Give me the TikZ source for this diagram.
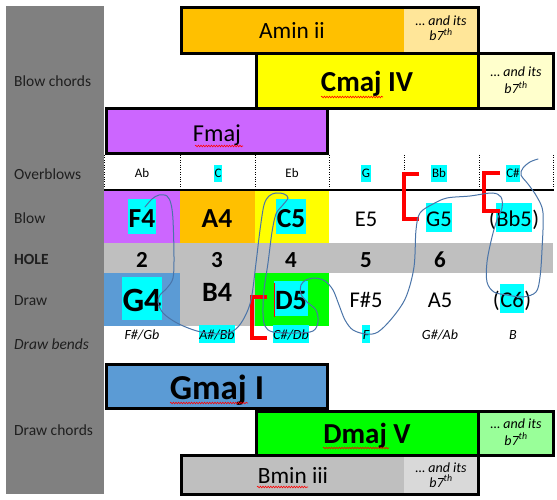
\documentclass[tikz,border=0pt]{standalone}
\usepackage{fontspec}
\setmainfont{Carlito}
\usetikzlibrary{decorations.pathmorphing}
\definecolor{labgray}{HTML}{808080}
\definecolor{cpurple}{HTML}{CC66FF}
\definecolor{corange}{HTML}{FFC000}
\definecolor{corangel}{HTML}{FFE699}
\definecolor{cyel}{HTML}{FFFF00}
\definecolor{cyell}{HTML}{FFFFCC}
\definecolor{cgray}{HTML}{BFBFBF}
\definecolor{cgrayl}{HTML}{D9D9D9}
\definecolor{cblue}{HTML}{5B9BD5}
\definecolor{cgreen}{HTML}{00FF00}
\definecolor{cgreenl}{HTML}{99FF99}
\definecolor{hlc}{HTML}{00FFFF}
\definecolor{scrib}{HTML}{4A74A8}
\newcommand\hlt[1]{{\setlength{\fboxsep}{0.6pt}\colorbox{hlc}{\rule[-0.24em]{0pt}{1.22em}#1}}}
\newcommand\fsz[1]{\fontsize{#1}{#1}\selectfont}
\tikzset{
  lab/.style={anchor=base west, inner sep=0pt, text=black!88, font=\fsz{15.5}},
  ob/.style={anchor=base, inner sep=0pt, font=\fsz{13}},
  bnote/.style={anchor=base, inner sep=0pt, font=\fsz{27.5}\bfseries},
  rnote/.style={anchor=base, inner sep=0pt, font=\fsz{22.5}},
  hnum/.style={anchor=base, inner sep=0pt, font=\fsz{23}\bfseries},
  bendtxt/.style={anchor=base, inner sep=0pt, font=\fsz{14}\itshape},
  seven/.style={anchor=base, inner sep=0pt, font=\fsz{14}\itshape},
  chordr/.style={anchor=base, inner sep=0pt, font=\fsz{23.3}},
  chordb/.style={anchor=base, inner sep=0pt, font=\fsz{29}\bfseries},
  boxline/.style={line width=3pt, line join=miter},
  bracket/.style={red, line width=4pt, line join=miter},
  spell/.style={red, line width=0.6pt, decorate, decoration={snake, amplitude=0.8pt, segment length=2.6pt}},
  sepline/.style={line width=0.8pt, dash pattern=on 0.8pt off 1.6pt},
}
\begin{document}
\begin{tikzpicture}[x=1pt, y=-1pt]
\useasboundingbox (0,0) rectangle (557,500);
% label column
\fill[labgray] (6,6) rectangle (104,494);
% grid cells
\fill[cpurple] (104,190) rectangle (180,243);
\fill[corange] (180,190) rectangle (255,243);
\fill[cyel] (255,190) rectangle (329,243);
\fill[cgray] (104,243) rectangle (553,273);
\fill[cblue] (104,273) rectangle (180,326);
\fill[cgray] (180,273) rectangle (255,326);
\fill[cgreen] (255,273) rectangle (329,326);
% overblow separators
\foreach \xx in {104,180,255,329,404,479,553} \draw[sepline] (\xx,155) -- (\xx,189);
\draw[line width=1.7pt] (104,190) -- (554,190);
% left labels
\node[lab] (lbc) at (14,87) {Blow chords};
\node[lab] (lob) at (14,179) {Overblows};
\node[lab] (lbl) at (14,223) {Blow};
\node[lab, font=\fsz{15.5}\bfseries] (lho) at (14,264) {HOLE};
\node[lab] (ldr) at (14,305) {Draw};
\node[lab, font=\fsz{15.5}\itshape] (ldb) at (14,349) {Draw bends};
\node[lab] (ldc) at (14,435) {Draw chords};
% overblows
\node[ob] (o2) at (142,178) {Ab};
\node[ob] (o3) at (218,178) {\hlt{C}};
\node[ob] (o4) at (292,178) {Eb};
\node[ob] (o5) at (366,178) {\hlt{G}};
\node[ob] (o6) at (439,178) {\hlt{Bb}};
\node[ob] (o7) at (513,178) {\hlt{C\#}};
% blow
\node[bnote] (b2) at (142,227) {\hlt{F4}};
\node[bnote] (b3) at (217,227) {A4};
\node[bnote] (b4) at (291,227) {\hlt{C5}};
\node[rnote] (b5) at (366,226) {E5};
\node[rnote] (b6) at (439,226) {\hlt{G5}};
\node[rnote] (b7) at (514,226) {(\hlt{Bb5})};
% hole numbers
\node[hnum] (h2) at (142,267) {2};
\node[hnum] (h3) at (217,267) {3};
\node[hnum] (h4) at (291,267) {4};
\node[hnum] (h5) at (366,267) {5};
\node[hnum] (h6) at (440,267) {6};
% draw
\node[bnote, font=\fsz{34}\bfseries] (d2) at (142,311) {\hlt{G4}};
\node[bnote, font=\fsz{28}\bfseries] (d3) at (217,301) {B4};
\node[bnote, font=\fsz{28}\bfseries] (d4) at (291,309) {\hlt{D5}};
\node[rnote] (d5) at (366,307) {F\#5};
\node[rnote] (d6) at (440,307) {A5};
\node[rnote] (d7) at (512,307) {(\hlt{C6})};
% draw bends
\node[bendtxt] (e2) at (142,339) {F\#/Gb};
\node[bendtxt] (e3) at (217,339) {\hlt{A\#/Bb}};
\node[bendtxt] (e4) at (291,339) {\hlt{C\#/Db}};
\node[bendtxt] (e5) at (366,339) {\hlt{F}};
\node[bendtxt] (e6) at (440,339) {G\#/Ab};
\node[bendtxt] (e7) at (513,339) {B};
% blow chord boxes
\fill[corange] (181,7.5) rectangle (404,54);
\fill[corangel] (404,7.5) rectangle (478.5,54);
\draw[boxline] (181,7.5) rectangle (478.5,54);
\fill[cyel] (256,54) rectangle (478.5,108.5);
\fill[cyell] (478.5,54) rectangle (553,108.5);
\draw[boxline] (256,54) rectangle (553,108.5);
\draw[boxline] (478.5,54) -- (478.5,108.5);
\fill[cpurple] (106,108.5) rectangle (327.5,154);
\draw[boxline] (106,108.5) rectangle (327.5,154);
\node[chordr] (amin) at (292,39) {Amin ii};
\node[seven] (amin7a) at (441,26) {… and its};
\node[seven] (amin7b) at (441,41) {b7\textsuperscript{th}};
\node[chordb] (cmaj) at (367,92) {Cmaj IV};
\node[seven] (cmaj7a) at (516,77) {… and its};
\node[seven] (cmaj7b) at (516,94) {b7\textsuperscript{th}};
\node[chordr, font=\fsz{24.3}] (fmaj) at (217,142) {Fmaj};
\draw[spell] (321,97) -- (383,97);
\draw[spell] (195,146) -- (243,146);
% draw chord boxes
\fill[cblue] (106,364.5) rectangle (327.5,408);
\draw[boxline] (106,364.5) rectangle (327.5,408);
\fill[cgreen] (256,411.5) rectangle (478.5,455.5);
\fill[cgreenl] (478.5,411.5) rectangle (553,455.5);
\draw[boxline] (256,411.5) rectangle (553,455.5);
\draw[boxline] (478.5,411.5) -- (478.5,455.5);
\fill[cgray] (181,455.5) rectangle (404,494.5);
\fill[cgrayl] (404,455.5) rectangle (478.5,494.5);
\draw[boxline] (181,455.5) rectangle (478.5,494.5);
\node[chordb, font=\fsz{35}\bfseries] (gmaj) at (217,399) {Gmaj I};
\node[chordb] (dmaj) at (367,443) {Dmaj V};
\node[seven] (dmaj7a) at (516,428) {… and its};
\node[seven] (dmaj7b) at (516,445) {b7\textsuperscript{th}};
\node[chordr] (bmin) at (293,483) {Bmin iii};
\node[seven] (bmin7a) at (441,472) {… and its};
\node[seven] (bmin7b) at (441,487) {b7\textsuperscript{th}};
\draw[spell] (170,403) -- (248,403);
\draw[spell] (323,448) -- (389,448);
\draw[spell] (257,487) -- (308,487);
% red brackets
\draw[bracket] (419,174) -- (404,174) -- (404,219) -- (419,219);
\draw[bracket] (500,173) -- (484,173) -- (484,211) -- (500,211);
\draw[bracket] (267,297) -- (252,297) -- (252,338) -- (267,338);
\draw[red, line width=1pt] (274,283) -- (274,317);
% freehand scribble
\draw[scrib, line width=1pt, line cap=round] plot[smooth, tension=0.55] coordinates {
(145,207) (152,199) (159,195) (167,196) (171,204) (173,220) (174,257) (173,278)
(167,288) (160,295) (158,302) (163,313) (177,323) (197,331) (217,334) (233,331)
(243,320) (251,300) (256,263) (260,230) (264,205) (269,196) (276,193) (284,194)
(288,198) (282,206) (276,214) (272,232) (268,263) (264,290) (263,313) (265,326)
(273,332) (297,333) (313,331) (318,322) (316,310) (307,302) (301,294) (301,285)
(306,280) (315,278) (325,281) (333,290) (339,305) (345,320) (353,330) (366,334)
(378,332) (393,317) (406,297) (414,267) (416,230) (420,213) (433,204) (447,198)
(470,196) (492,193) (501,197) (502,208) (497,220) (492,237) (487,262) (487,282)
(494,292) (507,295) (523,297) (536,292) (540,277) (542,250) (543,213) (537,197)
(528,184) (521,175) (523,168) (530,162) (538,159)};
\end{tikzpicture}
\end{document}
